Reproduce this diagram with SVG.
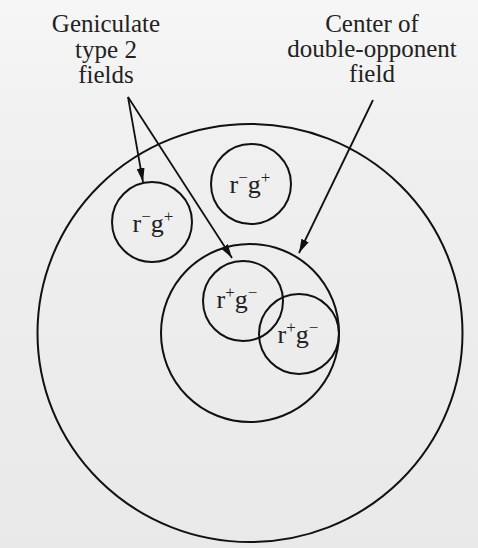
<svg xmlns="http://www.w3.org/2000/svg" width="478" height="548" viewBox="0 0 478 548">
  <defs>
    <linearGradient id="bg" x1="0" y1="0" x2="0" y2="1">
      <stop offset="0" stop-color="#f6f6f6"/>
      <stop offset="0.3" stop-color="#efefef"/>
      <stop offset="1" stop-color="#e9e9e9"/>
    </linearGradient>
    <marker id="arr" viewBox="0 0 14 8" refX="14" refY="4" markerWidth="14" markerHeight="8" markerUnits="userSpaceOnUse" orient="auto">
      <path d="M0,0 L14,4 L0,8 Z" fill="#111"/>
    </marker>
    <style>
      .c { fill: none; stroke: #111; stroke-width: 2; }
      .ln { fill: none; stroke: #111; stroke-width: 1.8; }
      .lbl { font-family: 'Liberation Serif', 'DejaVu Serif', serif; font-size: 25px; fill: #222; text-anchor: middle; }
      .cl { font-family: 'Liberation Serif', 'DejaVu Serif', serif; font-size: 26px; fill: #222; text-anchor: middle; }
      .sup { font-size: 17px; }
    </style>
  </defs>
  <rect width="478" height="548" fill="url(#bg)"/>

  <g id="outer-field">
    <ellipse class="c" cx="250" cy="333" rx="212.5" ry="209"/>
  </g>
  <g id="center-field">
    <circle class="c" cx="250" cy="333" r="89"/>
  </g>
  <g id="field-left">
    <circle class="c" cx="152" cy="222" r="40"/>
    <text class="cl" x="153" y="232">r<tspan class="sup" dy="-10">−</tspan><tspan dy="10">g</tspan><tspan class="sup" dy="-10">+</tspan></text>
  </g>
  <g id="field-top">
    <circle class="c" cx="251" cy="184" r="40"/>
    <text class="cl" x="250" y="193">r<tspan class="sup" dy="-10">−</tspan><tspan dy="10">g</tspan><tspan class="sup" dy="-10">+</tspan></text>
  </g>
  <g id="field-center-1">
    <circle class="c" cx="243" cy="301" r="40"/>
    <text class="cl" x="237" y="308">r<tspan class="sup" dy="-10">+</tspan><tspan dy="10">g</tspan><tspan class="sup" dy="-10">−</tspan></text>
  </g>
  <g id="field-center-2">
    <circle class="c" cx="299" cy="334" r="40"/>
    <text class="cl" x="298" y="343">r<tspan class="sup" dy="-10">+</tspan><tspan dy="10">g</tspan><tspan class="sup" dy="-10">−</tspan></text>
  </g>

  <g id="label-geniculate">
    <text class="lbl" x="106" y="32" font-family="Liberation Serif">Geniculate</text>
    <text class="lbl" x="106" y="58">type 2</text>
    <text class="lbl" x="106" y="83">fields</text>
  </g>
  <g id="label-center">
    <text class="lbl" x="372" y="32">Center of</text>
    <text class="lbl" x="372" y="57">double-opponent</text>
    <text class="lbl" x="372" y="82">field</text>
  </g>

  <g id="connectors">
    <line class="ln" x1="128" y1="97" x2="143" y2="182" marker-end="url(#arr)"/>
    <line class="ln" x1="128" y1="97" x2="232" y2="258" marker-end="url(#arr)"/>
    <line class="ln" x1="373" y1="100" x2="299" y2="253" marker-end="url(#arr)"/>
  </g>
</svg>
